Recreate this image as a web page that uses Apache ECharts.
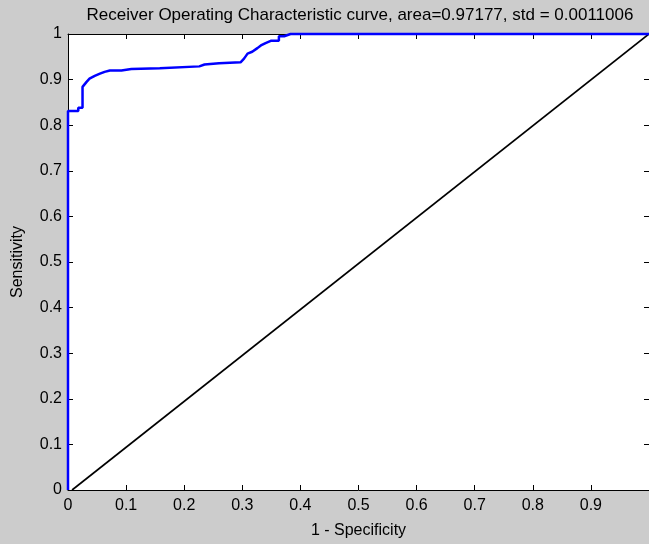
<!DOCTYPE html>
<html>
<head>
<meta charset="utf-8">
<script src="https://cdn.jsdelivr.net/npm/echarts@6/dist/echarts.min.js"></script>
<style>
html,body{margin:0;padding:0;background:#cccccc;}
#c{width:649px;height:544px;}
</style>
</head>
<body>
<div id="c"></div>
<script>
var titleText = "Receiver Operating Characteristic curve, area=0.97177, std = 0.0011006";
var xAxisName = "1 - Specificity";
var yAxisName = "Sensitivity";
var fprX = [0, 0, 0.0177, 0.0177, 0.025, 0.025, 0.028, 0.028, 0.032, 0.037, 0.046, 0.055, 0.063, 0.072, 0.092, 0.092, 0.109, 0.109, 0.158, 0.158, 0.226, 0.226, 0.235, 0.235, 0.260, 0.260, 0.297, 0.303, 0.309, 0.317, 0.326, 0.332, 0.340, 0.349, 0.363, 0.363, 0.372, 0.372, 0.383, 1];
var tprY = [0, 0.831, 0.831, 0.838, 0.838, 0.884, 0.884, 0.888, 0.895, 0.902, 0.908, 0.913, 0.917, 0.920, 0.920, 0.923, 0.923, 0.925, 0.925, 0.929, 0.929, 0.933, 0.933, 0.936, 0.936, 0.938, 0.938, 0.946, 0.957, 0.961, 0.969, 0.975, 0.980, 0.985, 0.985, 0.995, 0.995, 0.998, 1, 1];
var diagX = [0.007, 1];
var diagY = [0, 1];

var FONT = "Liberation Sans";
function fmt(v){ return String(Math.round(v*10)/10); }
function zip(a,b){ return a.map(function(v,i){ return [v,b[i]]; }); }

var chart = echarts.init(document.getElementById('c'), null, {renderer:'canvas'});
var axisLineStyle = {color:'#000', width:1};
var option = {
  backgroundColor: '#cccccc',
  animation: false,
  graphic: [{
    type: 'text', x: 360, y: 15,
    style: {text: titleText, fill: '#000', font: '17px ' + FONT, align: 'center', verticalAlign: 'middle'}
  }],
  grid: {left: 68, top: 34, right: -3, bottom: 49, show: true, backgroundColor: '#fff', borderWidth: 0},
  xAxis: [{
    type: 'value', min: 0, max: 1, interval: 0.1, position: 'bottom',
    name: xAxisName, nameLocation: 'middle', nameGap: 33,
    nameTextStyle: {fontFamily: FONT, fontSize: 16, color: '#000'},
    axisLine: {show: true, onZero: false, lineStyle: axisLineStyle},
    axisTick: {show: true, inside: true, length: 5, lineStyle: axisLineStyle},
    axisLabel: {show: true, formatter: fmt, fontFamily: FONT, fontSize: 16, color: '#000', margin: 8, showMaxLabel: false},
    splitLine: {show: false}
  }, {
    type: 'value', min: 0, max: 1, interval: 0.1, position: 'top',
    axisLine: {show: true, onZero: false, lineStyle: axisLineStyle},
    axisTick: {show: true, inside: true, length: 5, lineStyle: axisLineStyle},
    axisLabel: {show: false}, splitLine: {show: false}
  }],
  yAxis: [{
    type: 'value', min: 0, max: 1, interval: 0.1, position: 'left',
    name: yAxisName, nameLocation: 'middle', nameGap: 42, nameRotate: 90,
    nameTextStyle: {fontFamily: FONT, fontSize: 16, color: '#000'},
    axisLine: {show: true, onZero: false, lineStyle: axisLineStyle},
    axisTick: {show: true, inside: true, length: 5, lineStyle: axisLineStyle},
    axisLabel: {show: true, formatter: fmt, fontFamily: FONT, fontSize: 16, color: '#000', margin: 6},
    splitLine: {show: false}
  }, {
    type: 'value', min: 0, max: 1, interval: 0.1, position: 'right',
    axisLine: {show: true, onZero: false, lineStyle: axisLineStyle},
    axisTick: {show: true, inside: true, length: 5, lineStyle: axisLineStyle},
    axisLabel: {show: false}, splitLine: {show: false}
  }],
  series: [{
    type: 'line', xAxisIndex: 0, yAxisIndex: 0, data: zip(diagX, diagY),
    symbol: 'none', clip: false, lineStyle: {color: '#000', width: 1.6}, z: 3
  }, {
    type: 'line', xAxisIndex: 0, yAxisIndex: 0, data: zip(fprX, tprY),
    symbol: 'none', clip: false, lineStyle: {color: '#0000ff', width: 2.5}, z: 4
  }]
};
chart.setOption(option);
</script>
</body>
</html>
